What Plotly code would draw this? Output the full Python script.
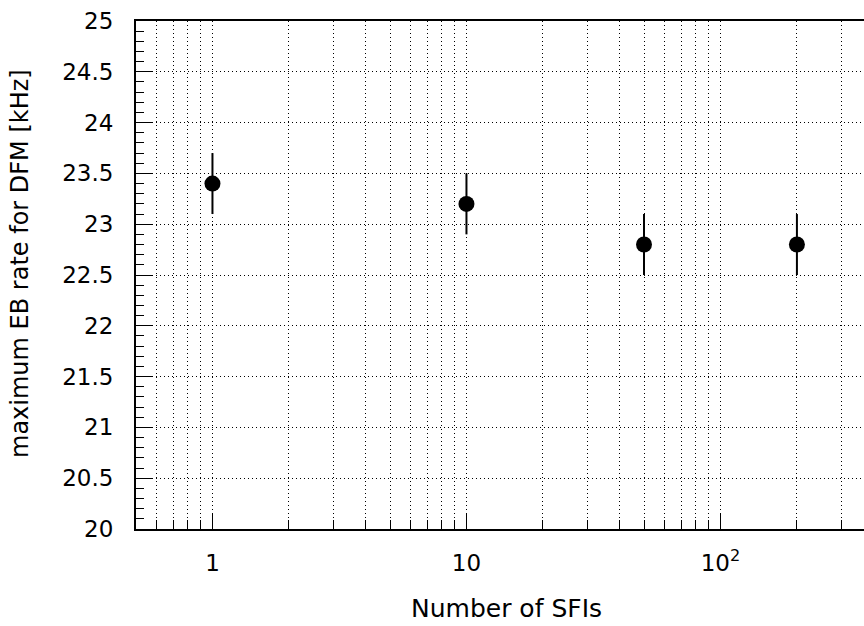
import numpy as np
import plotly.graph_objects as go

n_sfi = [1, 10, 50, 200]
eb_rate = [23.4, 23.2, 22.8, 22.8]
eb_err = [0.3, 0.3, 0.3, 0.3]

x_major = [1, 10, 100]
x_major_text = ["1", "10", "10<sup>2</sup>"]
x_minor = [0.6, 0.7, 0.8, 0.9, 2, 3, 4, 5, 6, 7, 8, 9,
           20, 30, 40, 50, 60, 70, 80, 90, 200, 300]
y_major = [20, 20.5, 21, 21.5, 22, 22.5, 23, 23.5, 24, 24.5, 25]
y_major_text = ["20", "20.5", "21", "21.5", "22", "22.5", "23", "23.5", "24", "24.5", "25"]
x_title = "Number of SFIs"
y_title = "maximum EB rate for DFM [kHz]"

FONT = "DejaVu Sans"

fig = go.Figure()
fig.add_trace(go.Scatter(
    x=n_sfi, y=eb_rate, mode="markers",
    marker=dict(color="black", size=16, line=dict(width=0)),
    error_y=dict(type="data", array=eb_err, color="black", thickness=2, width=0),
    showlegend=False,
))

W, H = 864, 626
ml, mr, mt, mb = 136, 0, 21, 97
pw, ph = W - ml - mr, H - mt - mb
decade_px = 254.0
x0 = np.log10(0.5)
x1 = x0 + pw / decade_px

dash = "1px,3px"
fig.update_layout(
    width=W, height=H,
    margin=dict(l=ml, r=mr, t=mt, b=mb, pad=0),
    paper_bgcolor="white", plot_bgcolor="white",
    font=dict(family=FONT, color="black"),
    xaxis=dict(
        type="log", range=[x0, x1],
        tickvals=x_major, ticktext=x_major_text,
        ticks="inside", ticklen=16, tickwidth=1, tickcolor="black",
        tickfont=dict(size=23, family=FONT),
        ticklabelstandoff=12,
        showline=True, linecolor="black", linewidth=2, mirror=True,
        showgrid=True, gridcolor="black", gridwidth=1, griddash=dash,
        zeroline=False,
        minor=dict(tickvals=x_minor, ticks="inside", ticklen=9, tickwidth=1,
                   tickcolor="black", showgrid=True, gridcolor="black",
                   gridwidth=1, griddash=dash),
    ),
    yaxis=dict(
        range=[20, 25],
        tickvals=y_major, ticktext=y_major_text,
        ticks="inside", ticklen=16, tickwidth=1, tickcolor="black",
        tickfont=dict(size=23, family=FONT),
        ticklabelstandoff=16,
        showline=True, linecolor="black", linewidth=2,
        showgrid=True, gridcolor="black", gridwidth=1, griddash=dash,
        zeroline=False,
        minor=dict(dtick=0.1, ticks="inside", ticklen=8, tickwidth=1,
                   tickcolor="black", showgrid=False),
    ),
    annotations=[
        dict(text=x_title, xref="paper", yref="paper",
             x=(506 - ml) / pw, y=(H - mb - 608) / ph,
             xanchor="center", yanchor="middle", showarrow=False,
             font=dict(size=25, family=FONT)),
        dict(text=y_title, xref="paper", yref="paper",
             x=(20 - ml) / pw, y=(H - mb - 264) / ph, textangle=-90,
             xanchor="center", yanchor="middle", showarrow=False,
             font=dict(size=24, family=FONT)),
    ],
)

fig.write_html("out.html")
